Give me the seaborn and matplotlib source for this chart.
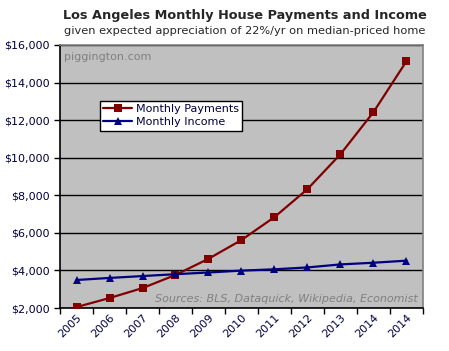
import numpy as np
import pandas as pd
import matplotlib
matplotlib.use("Agg")
import matplotlib.pyplot as plt
import seaborn as sns
from matplotlib.ticker import FuncFormatter, FixedLocator

year_labels = ["2005", "2006", "2007", "2008", "2009", "2010", "2011", "2012", "2013", "2014", "2014"]
payments = [2050, 2530, 3060, 3760, 4620, 5620, 6840, 8330, 10190, 12430, 15140]
income = [3490, 3600, 3700, 3800, 3890, 3990, 4060, 4160, 4320, 4410, 4520]

series_names = ["Monthly Payments", "Monthly Income"]
colors = {"Monthly Payments": "#800000", "Monthly Income": "#000080"}
markers = {"Monthly Payments": "s", "Monthly Income": "^"}

pos = np.arange(len(year_labels))
df = pd.DataFrame({
    "pos": np.concatenate([pos, pos]),
    "value": payments + income,
    "series": [series_names[0]] * len(pos) + [series_names[1]] * len(pos),
})

sns.set_style("white")
plt.rcParams["font.family"] = ["DejaVu Sans"]

fig = plt.figure(figsize=(4.49, 3.51), dpi=100)
ax = fig.add_axes([60 / 449, 1 - 308 / 351, (423 - 60) / 449, (308 - 45) / 351])
ax.set_facecolor("#C0C0C0")

sns.lineplot(data=df, x="pos", y="value", hue="series", style="series",
             palette=colors, markers=markers, dashes=False, linewidth=1.6,
             markersize=5.5, markeredgewidth=0, ax=ax, zorder=3)

ax.set_xlim(-0.5, len(year_labels) - 0.5)
ax.set_ylim(2000, 16000)
ax.set_yticks(np.arange(2000, 16001, 2000))
ax.yaxis.set_major_formatter(FuncFormatter(lambda v, p: f"${int(v):,}"))
ax.grid(axis="y", color="black", linewidth=1.0, zorder=1)
ax.grid(axis="x", visible=False)
ax.set_axisbelow(True)

ax.xaxis.set_major_locator(FixedLocator(np.arange(-0.5, len(year_labels), 1.0)))
ax.xaxis.set_major_formatter(FuncFormatter(lambda v, p: ""))
ax.xaxis.set_minor_locator(FixedLocator(pos))
ax.set_xticklabels(year_labels, minor=True, rotation=45, ha="right",
                   rotation_mode="anchor", fontsize=8, color="#000040")
ax.tick_params(axis="x", which="minor", length=0, pad=3)
ax.tick_params(axis="x", which="major", length=4, width=1, color="black",
               direction="out", bottom=True)
ax.tick_params(axis="y", length=4, width=1, color="black", direction="out",
               labelsize=8, labelcolor="#000040", left=True)
ax.set_xlabel("")
ax.set_ylabel("")

for s in ["left", "bottom"]:
    ax.spines[s].set_color("black")
    ax.spines[s].set_linewidth(1.2)
for s in ["top", "right"]:
    ax.spines[s].set_color("#808080")
    ax.spines[s].set_linewidth(1.2)

leg = ax.legend(loc="upper left", bbox_to_anchor=(0.095, 0.81), fontsize=8,
                frameon=True, fancybox=False, edgecolor="black", framealpha=1.0,
                handlelength=2.6, handletextpad=0.3, borderpad=0.3,
                labelspacing=0.3, title=None)
leg.get_frame().set_facecolor("white")
leg.get_frame().set_linewidth(1.0)
for t in leg.get_texts():
    t.set_color("#000040")

ax.text(0.012, 0.975, "piggington.com", transform=ax.transAxes, fontsize=8,
        color="#808080", ha="left", va="top")
ax.text(0.985, 0.015, "Sources: BLS, Dataquick, Wikipedia, Economist",
        transform=ax.transAxes, fontsize=8, color="#808080", style="italic",
        ha="right", va="bottom")

fig.text(245 / 449, 1 - 15 / 351, "Los Angeles Monthly House Payments and Income",
         ha="center", va="center", fontsize=9.3, fontweight="bold")
fig.text(245 / 449, 1 - 31 / 351, "given expected appreciation of 22%/yr on median-priced home",
         ha="center", va="center", fontsize=8.2)

fig.savefig("out.png", dpi=100)
